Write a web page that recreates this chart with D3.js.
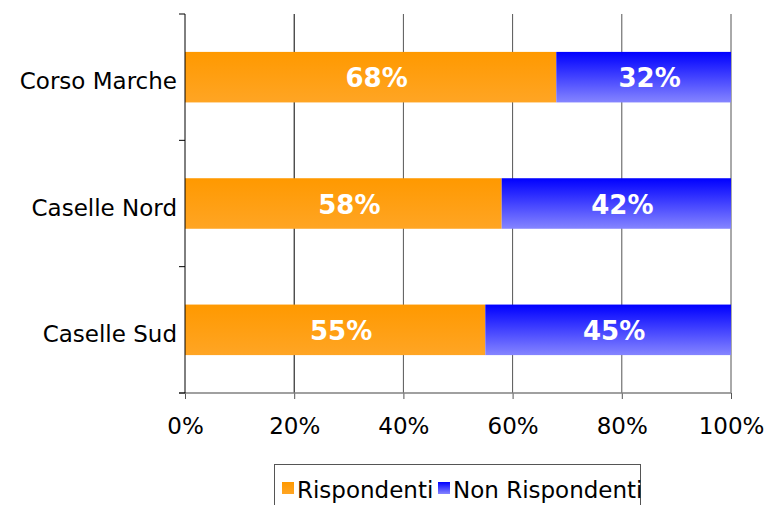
<!DOCTYPE html>
<html>
<head>
<meta charset="utf-8">
<script src="https://cdn.jsdelivr.net/npm/d3@7"></script>
<style>
  body { margin: 0; background: #fff; }
  text { font-family: "DejaVu Sans", Verdana, sans-serif; }
</style>
</head>
<body>
<svg id="chart" width="778" height="505"></svg>
<script>
// chart values
const categories = ["Corso Marche", "Caselle Nord", "Caselle Sud"];
const rispondenti = [68, 58, 55];
const nonRispondenti = [32, 42, 45];
const seriesNames = ["Rispondenti", "Non Rispondenti"];
const xTicks = [0, 20, 40, 60, 80, 100];

const svg = d3.select("#chart");
const margin = {top: 14, left: 185, right: 47, bottom: 112};
const W = 778, H = 505;

const x = d3.scaleLinear().domain([0, 100]).range([margin.left, W - margin.right]);
const y = d3.scaleBand().domain(categories).range([margin.top, H - margin.bottom]).paddingInner(0.6).paddingOuter(0.3);

// gradients
const defs = svg.append("defs");
function grad(id, c1, c2) {
    const g = defs.append("linearGradient").attr("id", id)
        .attr("x1", 0).attr("y1", 0).attr("x2", 0).attr("y2", 1);
    g.append("stop").attr("offset", "0%").attr("stop-color", c1);
    g.append("stop").attr("offset", "100%").attr("stop-color", c2);
}
grad("gOrange", "#ff9900", "#ffa524");
grad("gBlue", "#0000ff", "#8585ff");

// gridlines
svg.append("g").selectAll("line").data(xTicks.slice(1)).enter().append("line")
    .attr("x1", d => x(d)).attr("x2", d => x(d))
    .attr("y1", margin.top).attr("y2", H - margin.bottom)
    .attr("stroke", d => d === 20 ? "#000" : "#555").attr("stroke-width", 1);

// bars
const rows = categories.map((c, i) => ({cat: c, a: rispondenti[i], b: nonRispondenti[i]}));
const barG = svg.append("g");
barG.selectAll(".bar-a").data(rows).enter().append("rect")
    .attr("class", "bar-a")
    .attr("x", x(0)).attr("y", d => y(d.cat))
    .attr("width", d => x(d.a) - x(0)).attr("height", y.bandwidth())
    .attr("fill", "url(#gOrange)");
barG.selectAll(".bar-b").data(rows).enter().append("rect")
    .attr("class", "bar-b")
    .attr("x", d => x(d.a)).attr("y", d => y(d.cat))
    .attr("width", d => x(d.a + d.b) - x(d.a)).attr("height", y.bandwidth())
    .attr("fill", "url(#gBlue)");

// bar labels
const lab = svg.append("g").attr("fill", "#fff").attr("font-weight", "bold").attr("font-size", 26)
    .attr("text-anchor", "middle");
lab.selectAll(".la").data(rows).enter().append("text")
    .attr("x", d => x(d.a / 2) + 6).attr("y", d => y(d.cat) + y.bandwidth() / 2 + 10)
    .text(d => d.a + "%");
lab.selectAll(".lb").data(rows).enter().append("text")
    .attr("x", d => x(d.a + d.b / 2) + 6).attr("y", d => y(d.cat) + y.bandwidth() / 2 + 10)
    .text(d => d.b + "%");

// x axis
const xAxis = svg.append("g").attr("transform", `translate(0,${H - margin.bottom})`)
    .call(d3.axisBottom(x).tickValues(xTicks).tickFormat(d => d + "%").tickSize(6).tickPadding(19).tickSizeOuter(0));
xAxis.select(".domain").remove();
xAxis.selectAll(".tick line").attr("stroke", "#555");
xAxis.selectAll("text").attr("font-size", 23).attr("fill", "#000")
    .attr("font-family", "'DejaVu Sans', Verdana, sans-serif");
svg.append("line").attr("x1", margin.left - 6).attr("x2", x(100))
    .attr("y1", H - margin.bottom).attr("y2", H - margin.bottom)
    .attr("stroke", "#808080").attr("stroke-width", 1.5);

// y axis
const yTickPos = d3.range(categories.length + 1).map(i => margin.top + i * (H - margin.bottom - margin.top) / categories.length);
svg.append("g").selectAll("line").data(yTickPos).enter().append("line")
    .attr("x1", margin.left - 6).attr("x2", margin.left)
    .attr("y1", d => d).attr("y2", d => d).attr("stroke", "#000");
svg.append("line").attr("x1", margin.left).attr("x2", margin.left)
    .attr("y1", margin.top).attr("y2", H - margin.bottom).attr("stroke", "#000");
svg.append("g").selectAll("text").data(categories).enter().append("text")
    .attr("x", margin.left - 8).attr("y", d => y(d) + y.bandwidth() / 2 + 12)
    .attr("text-anchor", "end").attr("font-size", 23).attr("fill", "#000")
    .text(d => d);

// legend
const leg = svg.append("g");
leg.append("rect").attr("x", 274.5).attr("y", 464.5).attr("width", 366).attr("height", 60)
    .attr("fill", "none").attr("stroke", "#555");
const legColors = ["url(#gOrange)", "url(#gBlue)"];
const legX = [282, 438];
seriesNames.forEach((n, i) => {
    leg.append("rect").attr("x", legX[i]).attr("y", 482).attr("width", 12).attr("height", 12)
        .attr("fill", legColors[i]);
    leg.append("text").attr("x", legX[i] + 15).attr("y", 498).attr("font-size", 23).attr("fill", "#000")
        .text(n);
});
</script>
</body>
</html>
